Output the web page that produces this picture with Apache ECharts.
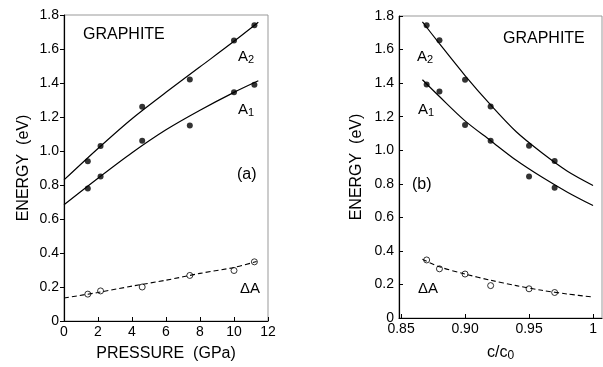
<!DOCTYPE html>
<html>
<head>
<meta charset="utf-8">
<script src="https://cdn.jsdelivr.net/npm/echarts@6/dist/echarts.min.js"></script>
<style>
  html, body { margin: 0; padding: 0; background: #fff; }
  #main { width: 603px; height: 367px; }
</style>
</head>
<body>
<div id="main"></div>
<script>
// panel (a): energy vs pressure
const pressure = [1.4, 2.15, 4.6, 7.4, 10, 11.2];
const pA2 = [0.94, 1.03, 1.26, 1.42, 1.65, 1.74];
const pA1 = [0.78, 0.85, 1.06, 1.15, 1.345, 1.39];
const pDA = [0.158, 0.177, 0.2, 0.268, 0.297, 0.348];
// fitted curves
const pFitX = [0, 2, 4, 6, 8, 10, 11.43];
const pFitA2 = [0.83, 1.015, 1.19, 1.345, 1.495, 1.645, 1.757];
const pFitA1 = [0.684, 0.84, 0.99, 1.125, 1.24, 1.345, 1.413];
const pFitDAX = [0, 2, 4, 6, 8, 10, 11.33];
const pFitDA = [0.135, 0.168, 0.205, 0.24, 0.28, 0.315, 0.35];

// panel (b): energy vs c/c0
const ratio = [0.87, 0.88, 0.90, 0.92, 0.95, 0.97];
const rA2 = [1.745, 1.655, 1.42, 1.26, 1.027, 0.936];
const rA1 = [1.392, 1.35, 1.15, 1.057, 0.844, 0.776];
const rDA = [0.346, 0.293, 0.262, 0.193, 0.174, 0.152];
const rFitX = [0.8667, 0.88, 0.90, 0.92, 0.94, 0.96, 0.98, 1.0];
const rFitA2 = [1.765, 1.635, 1.445, 1.27, 1.11, 0.985, 0.875, 0.79];
const rFitA1 = [1.42, 1.32, 1.175, 1.057, 0.94, 0.84, 0.75, 0.67];
const rFitDA = [0.35, 0.305, 0.262, 0.225, 0.193, 0.165, 0.143, 0.125];

const pressureTicks = [0, 2, 4, 6, 8, 10, 12];
const ratioTicks = [0.85, 0.9, 0.95, 1];

const FONT = 'Liberation Sans';
const INK = '#000';

const zip = (xs, ys) => xs.map((x, i) => [x, ys[i]]);

const chart = echarts.init(document.getElementById('main'), null, { renderer: 'canvas' });

const yAxisBase = (gridIndex, tickInside, gap) => ({
  gridIndex: gridIndex,
  type: 'value',
  min: 0,
  max: 1.8,
  interval: 0.2,
  name: 'ENERGY  (eV)',
  nameLocation: 'middle',
  nameGap: gap,
  nameTextStyle: { fontFamily: FONT, fontSize: 16, color: INK },
  axisLine: { show: true, lineStyle: { color: INK, width: 1.2 } },
  axisTick: { show: true, inside: tickInside, length: 4, lineStyle: { color: INK } },
  axisLabel: {
    margin: 5,
    fontFamily: FONT,
    fontSize: 14,
    color: INK,
    formatter: v => (v === 0 ? '0' : v.toFixed(1))
  },
  splitLine: { show: false }
});

const subStyle = { font: '11px "Liberation Sans"', fill: INK, padding: [7, 0, 0, 0] };

const option = {
  backgroundColor: '#fff',
  animation: false,
  grid: [
    { left: 64, right: 335, top: 15, bottom: 44, show: true, borderColor: '#999', borderWidth: 1 },
    { left: 399, right: 1, top: 16, bottom: 43, show: true, borderColor: '#999', borderWidth: 1 }
  ],
  xAxis: [
    {
      gridIndex: 0,
      type: 'value',
      min: 0,
      max: 12,
      name: 'PRESSURE  (GPa)',
      nameLocation: 'middle',
      nameGap: 25,
      nameTextStyle: { fontFamily: FONT, fontSize: 16, color: INK },
      axisLine: { lineStyle: { color: INK, width: 1.2 } },
      axisTick: { inside: true, length: 4, customValues: pressureTicks, lineStyle: { color: INK } },
      axisLabel: { margin: 4, fontFamily: FONT, fontSize: 14, color: INK, customValues: pressureTicks },
      splitLine: { show: false }
    },
    {
      gridIndex: 1,
      type: 'value',
      min: 0.8484,
      max: 1.007,
      name: 'c/c{s|0}',
      nameLocation: 'middle',
      nameGap: 25,
      nameTextStyle: {
        fontFamily: FONT, fontSize: 16, color: INK,
        rich: { s: { fontFamily: FONT, fontSize: 12, color: INK, padding: [7, 0, 0, 0] } }
      },
      axisLine: { lineStyle: { color: INK, width: 1.2 } },
      axisTick: { inside: true, length: 4, customValues: ratioTicks, lineStyle: { color: INK } },
      axisLabel: {
        margin: 4, fontFamily: FONT, fontSize: 14, color: INK, customValues: ratioTicks,
        formatter: v => (Math.abs(v - 1) < 1e-9 ? '1' : v.toFixed(2))
      },
      splitLine: { show: false }
    }
  ],
  yAxis: [yAxisBase(0, false, 32), yAxisBase(1, true, 34)],
  series: [
    // panel (a)
    { type: 'line', xAxisIndex: 0, yAxisIndex: 0, data: zip(pFitX, pFitA2), smooth: 0.3, showSymbol: false,
      lineStyle: { color: INK, width: 1.2 } },
    { type: 'line', xAxisIndex: 0, yAxisIndex: 0, data: zip(pFitX, pFitA1), smooth: 0.3, showSymbol: false,
      lineStyle: { color: INK, width: 1.2 } },
    { type: 'line', xAxisIndex: 0, yAxisIndex: 0, data: zip(pFitDAX, pFitDA), smooth: 0.3, showSymbol: false,
      lineStyle: { color: INK, width: 1.1, type: [5, 3] } },
    { type: 'scatter', xAxisIndex: 0, yAxisIndex: 0, data: zip(pressure, pA2), symbolSize: 6,
      itemStyle: { color: INK } },
    { type: 'scatter', xAxisIndex: 0, yAxisIndex: 0, data: zip(pressure, pA1), symbolSize: 6,
      itemStyle: { color: INK } },
    { type: 'scatter', xAxisIndex: 0, yAxisIndex: 0, data: zip(pressure, pDA), symbolSize: 6,
      itemStyle: { color: '#fff', borderColor: INK, borderWidth: 1 } },
    // panel (b)
    { type: 'line', xAxisIndex: 1, yAxisIndex: 1, data: zip(rFitX, rFitA2), smooth: 0.3, showSymbol: false,
      lineStyle: { color: INK, width: 1.2 } },
    { type: 'line', xAxisIndex: 1, yAxisIndex: 1, data: zip(rFitX, rFitA1), smooth: 0.3, showSymbol: false,
      lineStyle: { color: INK, width: 1.2 } },
    { type: 'line', xAxisIndex: 1, yAxisIndex: 1, data: zip(rFitX, rFitDA), smooth: 0.3, showSymbol: false,
      lineStyle: { color: INK, width: 1.1, type: [5, 3] } },
    { type: 'scatter', xAxisIndex: 1, yAxisIndex: 1, data: zip(ratio, rA2), symbolSize: 6,
      itemStyle: { color: INK } },
    { type: 'scatter', xAxisIndex: 1, yAxisIndex: 1, data: zip(ratio, rA1), symbolSize: 6,
      itemStyle: { color: INK } },
    { type: 'scatter', xAxisIndex: 1, yAxisIndex: 1, data: zip(ratio, rDA), symbolSize: 6,
      itemStyle: { color: '#fff', borderColor: INK, borderWidth: 1 } }
  ],
  graphic: [
    { type: 'text', left: 83, top: 27, style: { text: 'GRAPHITE', font: '16px "Liberation Sans"', fill: INK } },
    { type: 'text', left: 503, top: 31, style: { text: 'GRAPHITE', font: '16px "Liberation Sans"', fill: INK } },
    { type: 'text', left: 238, top: 49, style: { text: 'A{s|2}', font: '15px "Liberation Sans"', fill: INK, rich: { s: subStyle } } },
    { type: 'text', left: 238, top: 102, style: { text: 'A{s|1}', font: '15px "Liberation Sans"', fill: INK, rich: { s: subStyle } } },
    { type: 'text', left: 237, top: 167, style: { text: '(a)', font: '16px "Liberation Sans"', fill: INK } },
    { type: 'text', left: 240, top: 281, style: { text: 'ΔA', font: '15px "Liberation Sans"', fill: INK } },
    { type: 'text', left: 417, top: 49, style: { text: 'A{s|2}', font: '15px "Liberation Sans"', fill: INK, rich: { s: subStyle } } },
    { type: 'text', left: 418, top: 102, style: { text: 'A{s|1}', font: '15px "Liberation Sans"', fill: INK, rich: { s: subStyle } } },
    { type: 'text', left: 412, top: 177, style: { text: '(b)', font: '16px "Liberation Sans"', fill: INK } },
    { type: 'text', left: 418, top: 281, style: { text: 'ΔA', font: '15px "Liberation Sans"', fill: INK } }
  ]
};

chart.setOption(option);
</script>
</body>
</html>
